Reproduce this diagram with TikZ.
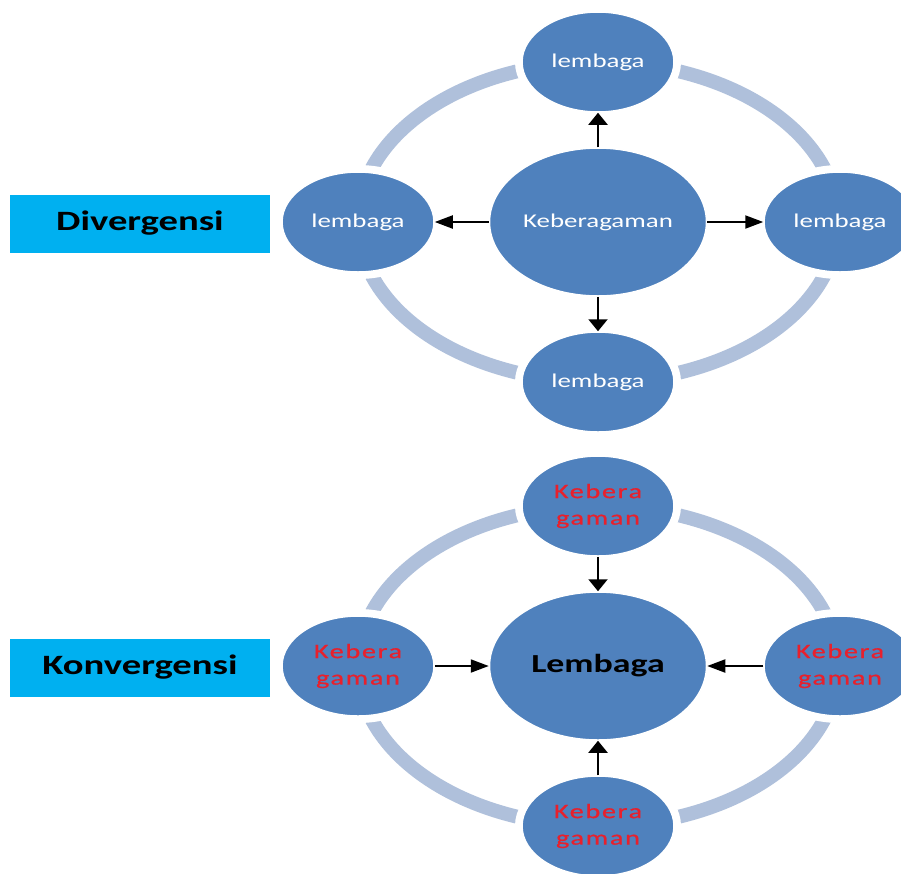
\documentclass[tikz,border=0pt]{standalone}
\usepackage{fontspec}
\usetikzlibrary{shapes.geometric,arrows.meta}
\setmainfont{Carlito}[FakeStretch=1.38]
\newfontfamily\spacedfont{Carlito}[FakeStretch=1.38,LetterSpace=8,FakeBold=0.6]

\definecolor{discblue}{HTML}{4F81BD}
\definecolor{ringblue}{HTML}{AFC0DB}
\definecolor{tagblue}{HTML}{00B0F0}
\definecolor{textred}{HTML}{E8202C}

\tikzset{
  disc/.style={ellipse, fill=discblue, draw=white, line width=1.5pt, inner sep=0pt},
  smalldisc/.style={disc, preaction={draw=white, line width=14pt}, minimum width=152pt, minimum height=100pt},
  bigdisc/.style={disc, minimum width=217pt, minimum height=148pt},
  ring/.style={draw=ringblue, line width=14pt},
  tagbox/.style={fill=tagblue, minimum width=260pt, minimum height=58pt, inner sep=0pt,
    font=\bfseries\fontsize{28}{32}\selectfont},
  whitelabel/.style={text=white, font=\fontsize{19.5}{23}\selectfont},
  redlabel/.style={text=textred, align=center, font=\spacedfont\fontsize{20.5}{26.5}\selectfont},
  biglabel/.style={text=black, font=\bfseries\fontsize{26}{30}\selectfont},
  vlink/.style={-{Triangle[length=12pt,width=19pt]}, line width=2pt, black},
  hlink/.style={-{Triangle[length=18pt,width=13pt]}, line width=2pt, black},
}

\begin{document}
\begin{tikzpicture}[x=1pt,y=-1pt]
\useasboundingbox (0,0) rectangle (901,873);
\clip (0,0) rectangle (901,873);
\fill[white] (0,0) rectangle (901,873);

% Divergensi: diversity spreading out to institutions
\draw[ring] (598,222) ellipse [x radius=240pt, y radius=160pt];
\node[tagbox] (div) at (140,223.5) {Divergensi};
\node[bigdisc, whitelabel] (dc) at (598,222) {Keberagaman};
\node[smalldisc, whitelabel] (dt) at (598,62) {lembaga};
\node[smalldisc, whitelabel] (dl) at (358,222) {lembaga};
\node[smalldisc, whitelabel] (dr) at (840,222) {lembaga};
\node[smalldisc, whitelabel] (db) at (598,382) {lembaga};
\draw[vlink] (dc) -- (dt);
\draw[hlink] (dc) -- (dl);
\draw[hlink] (dc) -- (dr);
\draw[vlink] (dc) -- (db);

% Konvergensi: diverse elements gathered into one institution
\draw[ring] (598,666) ellipse [x radius=240pt, y radius=160pt];
\node[tagbox] (kon) at (140,667.5) {Konvergensi};
\node[bigdisc, biglabel] (kc) at (598,666) {Lembaga};
\node[smalldisc, redlabel] (kt) at (598,506) {Kebera\\gaman};
\node[smalldisc, redlabel] (kl) at (358,666) {Kebera\\gaman};
\node[smalldisc, redlabel] (kr) at (840,666) {Kebera\\gaman};
\node[smalldisc, redlabel] (kb) at (598,826) {Kebera\\gaman};
\draw[vlink] (kt) -- (kc);
\draw[hlink] (kl) -- (kc);
\draw[hlink] (kr) -- (kc);
\draw[vlink] (kb) -- (kc);
\end{tikzpicture}
\end{document}
